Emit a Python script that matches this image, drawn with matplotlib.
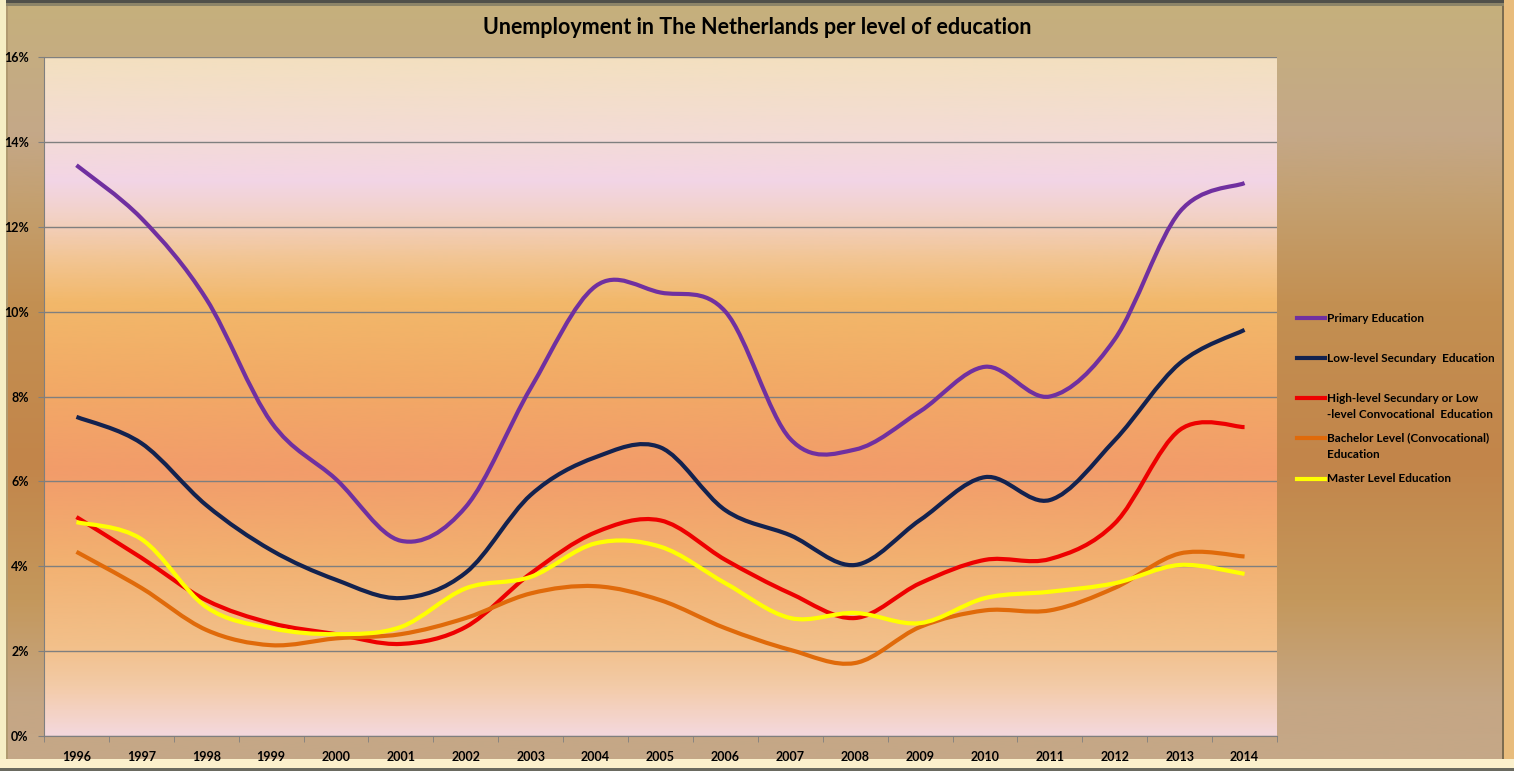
import matplotlib
matplotlib.use("Agg")
import matplotlib.pyplot as plt
import numpy as np
from matplotlib.path import Path
from matplotlib.patches import PathPatch, Rectangle
from matplotlib.colors import LinearSegmentedColormap
from matplotlib.lines import Line2D

# data (% unemployed)
years = [1996, 1997, 1998, 1999, 2000, 2001, 2002, 2003, 2004, 2005,
         2006, 2007, 2008, 2009, 2010, 2011, 2012, 2013, 2014]
primary = [13.45, 12.2, 10.3, 7.4, 6.05, 4.6, 5.4, 8.2, 10.6, 10.45,
           10.0, 7.0, 6.75, 7.65, 8.7, 8.0, 9.35, 12.35, 13.03]
low_sec = [7.52, 6.9, 5.44, 4.38, 3.68, 3.25, 3.85, 5.68, 6.57, 6.8,
           5.32, 4.73, 4.03, 5.09, 6.1, 5.56, 6.97, 8.78, 9.57]
high_sec = [5.16, 4.2, 3.2, 2.66, 2.4, 2.17, 2.57, 3.83, 4.8, 5.08,
            4.15, 3.36, 2.78, 3.6, 4.15, 4.17, 5.01, 7.21, 7.28]
bachelor = [4.34, 3.49, 2.5, 2.14, 2.3, 2.4, 2.78, 3.36, 3.53, 3.2,
            2.54, 2.03, 1.72, 2.57, 2.96, 2.96, 3.49, 4.3, 4.23]
master = [5.04, 4.64, 3.04, 2.54, 2.4, 2.57, 3.48, 3.75, 4.54, 4.46,
          3.6, 2.78, 2.9, 2.66, 3.25, 3.4, 3.6, 4.03, 3.82]

series = [primary, low_sec, high_sec, bachelor, master]
names = ["Primary Education",
         "Low-level Secundary  Education",
         "High-level Secundary or Low\n-level Convocational  Education",
         "Bachelor Level (Convocational)\nEducation",
         "Master Level Education"]
colors = ["#7030a0", "#13224f", "#ee0000", "#e06a0a", "#ffff00"]

W, H = 1514, 771
FONT = ["Lato", "DejaVu Sans"]


def smooth_path(xs, ys):
    # excel-like smoothed line: catmull-rom as cubic bezier
    pts = np.column_stack([xs, ys]).astype(float)
    n = len(pts)
    verts = [pts[0]]
    codes = [Path.MOVETO]
    for i in range(n - 1):
        p0 = pts[max(i - 1, 0)]
        p1 = pts[i]
        p2 = pts[i + 1]
        p3 = pts[min(i + 2, n - 1)]
        verts += [p1 + (p2 - p0) / 6, p2 - (p3 - p1) / 6, p2]
        codes += [Path.CURVE4] * 3
    return Path(verts, codes)


def vgrad(stops, n=400):
    cmap = LinearSegmentedColormap.from_list("g", stops)
    return cmap, np.linspace(0, 1, n).reshape(-1, 1)


fig = plt.figure(figsize=(W / 100, H / 100), dpi=100)

# chart area background with bevel
bg = fig.add_axes([0, 0, 1, 1])
bg.set_xlim(0, W)
bg.set_ylim(H, 0)
bg.axis("off")
frame_cmap, g = vgrad([(0.0, "#c6b07c"), (0.17, "#c4a888"), (0.26, "#c4a070"),
                       (0.39, "#c39052"), (0.60, "#c2854a"), (0.78, "#c4985c"),
                       (0.91, "#c5a684"), (1.0, "#c5a888")])
bg.imshow(g, extent=[0, W, H, 0], aspect="auto", cmap=frame_cmap,
          interpolation="bicubic")
bg.add_patch(Rectangle((0, 0), W, 3, color="#50504a", lw=0))
bg.add_patch(Rectangle((0, 3), W, 3, color="#8c8468", lw=0))
bg.add_patch(Rectangle((0, 0), 6, H, color="#f6eec4", lw=0))
bg.add_patch(Rectangle((6, 6), 1.5, H - 14, color="#b09a70", lw=0))
bg.add_patch(Rectangle((1502, 6), 2, H - 12, color="#7c6c50", lw=0))
bg.add_patch(Rectangle((1504, 0), 10, H, color="#e8bc7c", lw=0))
bg.add_patch(Rectangle((0, 759), W, 9, color="#fbf0cc", lw=0))
bg.add_patch(Rectangle((0, 768), W, 3, color="#6a6a60", lw=0))

fig.text(757 / W, 1 - 27 / H, "Unemployment in The Netherlands per level of education",
         ha="center", va="center", fontsize=15.5, fontweight="bold", family=FONT)

# plot area
ax = fig.add_axes([44 / W, 1 - 736 / H, (1277 - 44) / W, (736 - 57) / H])
x = np.arange(len(years))
plot_cmap, g = vgrad([(0.0, "#f4d8dc"), (0.07, "#f3cba8"), (0.13, "#f2c08a"),
                      (0.26, "#f2b070"), (0.39, "#f29c6a"), (0.52, "#f2aa66"),
                      (0.64, "#f2b86a"), (0.70, "#f2c490"), (0.77, "#f2d2c8"),
                      (0.82, "#f3d5e6"), (0.89, "#f3dcd5"), (1.0, "#f3e0c0")])
ax.imshow(g, extent=[-0.5, len(years) - 0.5, 0, 16], origin="lower",
          aspect="auto", cmap=plot_cmap, interpolation="bicubic", zorder=0)

for vals, col in zip(series, colors):
    ax.add_patch(PathPatch(smooth_path(x, vals), fill=False, ec=col, lw=3,
                           joinstyle="round", capstyle="butt", zorder=3))

ax.set_xlim(-0.5, len(years) - 0.5)
ax.set_ylim(0, 16)
ax.set_axisbelow(True)
ax.yaxis.grid(True, color="#7f7f7f", lw=1)
ax.set_yticks(range(0, 17, 2))
ax.set_yticklabels([f"{v}%" for v in range(0, 17, 2)])
ax.set_xticks(x)
ax.set_xticklabels([str(y) for y in years])
ax.set_xticks(np.arange(-0.5, len(years)), minor=True)
ax.tick_params(axis="x", which="major", length=0, pad=11)
ax.tick_params(axis="x", which="minor", length=4, color="#7f7f7f")
ax.tick_params(axis="y", length=4, color="#7f7f7f", pad=7)
for lab in ax.get_xticklabels() + ax.get_yticklabels():
    lab.set_fontweight("bold")
    lab.set_fontsize(9)
    lab.set_family(FONT)
for s in ["top", "right"]:
    ax.spines[s].set_visible(False)
for s in ["left", "bottom"]:
    ax.spines[s].set_color("#7f7f7f")

# legend drawn by hand to match the layout
leg_y = [318, 358, 398, 438, 479]
for name, col, yy in zip(names, colors, leg_y):
    fig.add_artist(Line2D([1297 / W, 1325 / W], [1 - yy / H, 1 - yy / H],
                          color=col, lw=3, transform=fig.transFigure))
    for k, line in enumerate(name.split("\n")):
        fig.text(1327 / W, 1 - (yy + 16 * k) / H, line, ha="left", va="center",
                 fontsize=8.5, fontweight="bold", family=FONT)

fig.savefig("out.png", dpi=100)
